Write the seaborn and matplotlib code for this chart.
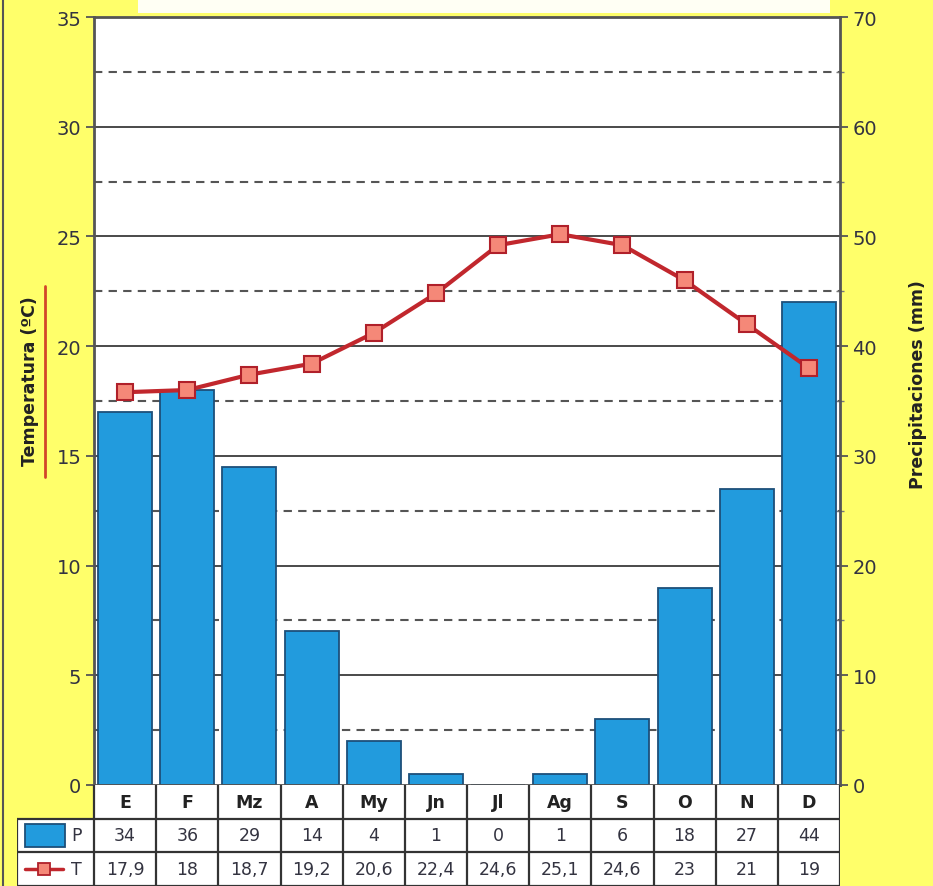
import numpy as np
import pandas as pd
import matplotlib
matplotlib.use("Agg")
import matplotlib.pyplot as plt
from matplotlib.patches import Rectangle
from matplotlib.lines import Line2D
import seaborn as sns

# Climograma: precipitaciones mensuales (barras) y temperatura media (línea)
meses = ["E", "F", "Mz", "A", "My", "Jn", "Jl", "Ag", "S", "O", "N", "D"]
precip = [34, 36, 29, 14, 4, 1, 0, 1, 6, 18, 27, 44]
temp = [17.9, 18, 18.7, 19.2, 20.6, 22.4, 24.6, 25.1, 24.6, 23, 21, 19]
temp_txt = ["17,9", "18", "18,7", "19,2", "20,6", "22,4", "24,6", "25,1", "24,6", "23", "21", "19"]
temp_ticks = [0, 5, 10, 15, 20, 25, 30, 35]
precip_ticks = [0, 10, 20, 30, 40, 50, 60, 70]

sns.set_style("white")
plt.rcParams["font.family"] = ["DejaVu Sans"]

YELLOW = "#FFFF6A"
BLUE = "#229BDD"
BLUE_EDGE = "#1D4F7A"
RED = "#C1272D"
MARK_FACE = "#F58878"
TXT = "#333340"
GRID = "#4A4A4A"

W, H = 933, 887
fig = plt.figure(figsize=(W / 100, H / 100), dpi=100, facecolor=YELLOW)


def fx(px):
    return px / W


def fy(py):
    return 1 - py / H


# white strip at the top (title area)
fig.patches.append(Rectangle((fx(138), fy(14)), fx(830) - fx(138), fy(0) - fy(14),
                             transform=fig.transFigure, facecolor="#FFFFF4",
                             edgecolor="none", zorder=0))
# left border of the card
fig.lines.append(Line2D([fx(3), fx(3)], [0, 1], transform=fig.transFigure,
                        color="#555555", lw=1.5))

L, R, T, B = 94, 840, 18, 786
ax = fig.add_axes([fx(L), fy(B), fx(R) - fx(L), fy(T) - fy(B)])
ax.set_facecolor("white")

df = pd.DataFrame({"mes": meses, "P": precip, "T": temp})

# horizontal guides in precipitation units
for v in range(10, 70, 10):
    ax.axhline(v, color=GRID, lw=1.4, zorder=0.5)
for v in range(5, 70, 10):
    ax.axhline(v, color="#555555", lw=1.5, ls=(0, (4, 3)), zorder=0.5)

sns.barplot(data=df, x="mes", y="P", ax=ax, color=BLUE, width=0.87,
            edgecolor=BLUE_EDGE, linewidth=1.3, saturation=1, zorder=2)
ax.set_xlim(-0.5, len(meses) - 0.5)
ax.set_ylim(0, 70)
ax.set_xticks([])
ax.set_xlabel("")
ax.set_ylabel("")
for s in ax.spines.values():
    s.set_color("#555555")
    s.set_linewidth(2)

ax2 = ax.twinx()
sns.lineplot(x=np.arange(len(meses)), y=df["T"], ax=ax2, color=RED, lw=3,
             marker="s", markersize=11, markerfacecolor=MARK_FACE,
             markeredgecolor="#B0202A", markeredgewidth=1.5, zorder=5)
ax2.set_ylim(0, 35)
ax2.set_xlim(-0.5, len(meses) - 0.5)
ax2.set_yticks(temp_ticks)
ax2.set_ylabel("")
ax2.tick_params(axis="y", direction="out", length=6, width=1.3, color="#555555",
                labelsize=14, labelcolor=TXT, pad=3, left=True, right=False,
                labelleft=True, labelright=False)
for s in ax2.spines.values():
    s.set_visible(False)

# precipitation scale on the right (set after twinx, which resets sides)
ax.set_yticks(precip_ticks)
ax.set_yticks(range(5, 70, 10), minor=True)
ax.tick_params(axis="y", which="major", direction="out", length=6, width=1.3,
               color="#555555", labelsize=14, labelcolor=TXT, pad=3,
               right=True, left=False, labelright=True, labelleft=False)
ax.tick_params(axis="y", which="minor", direction="inout", length=6, width=1.0,
               color="#777777", right=True, left=False)

# axis titles
fig.text(fx(30), fy(381), "Temperatura (ºC)", rotation=90, ha="center", va="center",
         fontsize=12.5, fontweight="bold", color="#222222")
fig.lines.append(Line2D([fx(45), fx(45)], [fy(287), fy(478)], transform=fig.transFigure,
                        color="#D2452A", lw=2))
fig.text(fx(918), fy(385), "Precipitaciones (mm)", rotation=90, ha="center", va="center",
         fontsize=12.5, fontweight="bold", color="#222222")

# data table under the chart
col_w = (R - L) / len(meses)
x_left = -0.5 - (L - 17) / col_w
tab = fig.add_axes([fx(17), 0, fx(R) - fx(17), fy(B)])
tab.set_xlim(x_left, len(meses) - 0.5)
tab.set_ylim(0, 3)
tab.axis("off")
tab.add_patch(Rectangle((-0.5, 0), len(meses), 3, facecolor="white", edgecolor="none"))
tab.add_patch(Rectangle((x_left, 0), -0.5 - x_left, 2, facecolor="white", edgecolor="none"))
lc, lw = "#333333", 1.6
for k in range(len(meses) + 1):
    tab.plot([-0.5 + k, -0.5 + k], [0, 3], color=lc, lw=lw, solid_capstyle="butt")
tab.plot([x_left, x_left], [0, 2], color=lc, lw=lw)
for yv in (0, 1, 2):
    tab.plot([x_left, len(meses) - 0.5], [yv, yv], color=lc, lw=lw)

for i, m in enumerate(meses):
    tab.text(i, 2.5, m, ha="center", va="center", fontsize=12.5, fontweight="bold", color="#222222")
    tab.text(i, 1.5, str(precip[i]), ha="center", va="center", fontsize=12.5, color=TXT)
    tab.text(i, 0.5, temp_txt[i], ha="center", va="center", fontsize=12.5, color=TXT)

# legend keys in the first column
px = 1 / col_w
tab.add_patch(Rectangle((x_left + 8 * px, 1.16), 40 * px, 0.68, facecolor=BLUE,
                        edgecolor=BLUE_EDGE, lw=1.3))
tab.text(x_left + 59 * px, 1.5, "P", ha="center", va="center", fontsize=12.5, color=TXT)
tab.plot([x_left + 8 * px, x_left + 46 * px], [0.5, 0.5], color=RED, lw=2.5)
tab.plot([x_left + 27 * px], [0.5], marker="s", markersize=8, markerfacecolor=MARK_FACE,
         markeredgecolor="#B0202A", markeredgewidth=1.3)
tab.text(x_left + 59 * px, 0.5, "T", ha="center", va="center", fontsize=12.5, color=TXT)

fig.savefig("out.png", dpi=100, facecolor=YELLOW)
